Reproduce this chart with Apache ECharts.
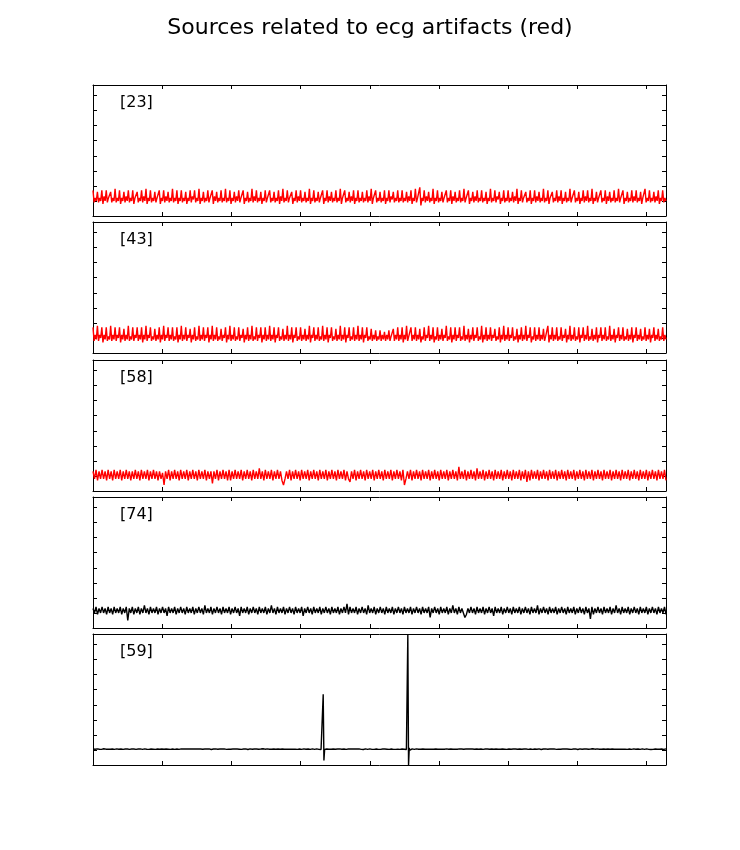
<!DOCTYPE html>
<html><head><meta charset="utf-8">
<script src="https://cdn.jsdelivr.net/npm/echarts@6/dist/echarts.min.js"></script>
<style>html,body{margin:0;padding:0;background:#fff}#c{width:740px;height:850px}</style>
</head><body><div id="c"></div>
<script>
const titleText = 'Sources related to ecg artifacts (red)';
const panelLabels = ['[23]', '[43]', '[58]', '[74]', '[59]'];
const panelColors = ['#ff0000', '#ff0000', '#ff0000', '#000000', '#000000'];
const xMax = 82.8, xTickStep = 10;
const yMin = 0, yMax = 87, yTickStep = 10;

const s23 = [
17,9,12,10, 16,9,12,10, 17,8,13,10, 17,9,12,11, 16,9,12,10, 18,9,12,10, 17,8,12,10, 16,9,13,10, 17,9,12,10, 17,8,12,11,
16,9,12,10, 17,9,13,10, 18,8,12,10, 17,9,12,10, 16,9,12,11, 17,8,12,10, 17,9,13,10, 16,9,12,10, 18,9,12,10, 17,8,12,10,
17,9,12,10, 16,8,12,10, 17,9,13,11, 17,9,12,10, 18,8,12,10, 16,9,12,10, 17,9,12,11, 17,8,13,10, 16,9,12,10, 17,9,12,10,
18,9,12,10, 17,8,12,10, 16,9,13,10, 17,9,12,11, 17,8,12,10, 16,9,12,10, 18,9,13,10, 17,9,12,10, 16,8,12,10, 17,9,12,11,
17,9,12,10, 16,9,12,10, 17,8,13,10, 18,9,12,10, 17,9,12,11, 16,8,12,10, 17,9,13,10, 17,9,12,10, 16,9,12,10, 18,8,12,10,
17,9,12,10, 16,9,12,11, 17,8,12,10, 17,9,13,10, 16,9,12,10, 17,9,12,10, 18,8,12,11, 17,9,12,10, 16,9,13,10, 17,8,12,10,
17,9,12,10, 16,9,12,10, 17,9,13,10, 18,8,12,11, 17,9,12,10, 16,9,12,10, 17,8,12,10, 17,9,13,11, 16,9,12,10, 17,9,12,10,
17,9,12,10, 16,9,13,10, 17,8,12,10, 18,9,12,11, 19,7,12,10, 17,9,13,10, 16,9,12,10, 18,8,12,10, 17,9,12,10, 16,9,12,11,
17,9,12,10, 17,8,13,10, 16,9,12,10, 17,9,12,10, 18,9,12,11, 17,8,12,10, 16,9,13,10, 17,9,12,10, 17,9,12,10, 16,8,12,10,
18,9,12,10, 17,9,13,11, 16,8,12,10, 17,9,12,10, 17,9,12,10, 16,9,13,10, 18,8,12,10, 17,9,12,11, 16,9,12,10, 17,8,12,10,
17,9,13,10, 16,9,12,10, 18,9,12,10, 17,8,12,11, 16,9,12,10, 17,9,13,10, 17,8,12,10, 16,9,12,10, 18,9,12,11, 17,9,12,10,
16,8,12,10, 17,9,13,10, 17,9,12,10, 18,8,12,10, 16,9,12,11, 17,9,12,10, 17,8,13,10, 16,9,12,10, 17,9,12,10, 18,9,12,11,
17,8,12,10, 16,9,12,10, 17,9,13,10, 17,9,12,10, 16,8,12,11, 18,9,12,10, 17,9,12,10, 16,9,13,10, 17,8,12,10, 17,9,12,10
];

const s43 = [
17,8,12,9, 18,8,12,10, 17,7,12,9, 17,8,11,9, 18,8,12,9, 17,8,12,10, 17,7,12,9, 16,8,12,9, 18,8,11,9, 17,8,12,10,
17,8,12,9, 17,7,12,9, 18,8,12,10, 17,8,11,9, 16,8,12,9, 17,7,12,9, 18,8,12,10, 17,8,12,9, 17,8,11,9, 17,7,12,9,
18,8,12,9, 17,8,12,10, 16,7,12,9, 17,8,11,9, 18,8,12,9, 17,8,12,10, 17,7,12,9, 18,8,12,9, 17,8,11,9, 16,8,12,10,
17,7,12,9, 18,8,12,9, 17,8,11,9, 17,8,12,10, 16,7,12,9, 17,8,12,9, 18,8,11,9, 17,8,12,10, 17,7,12,9, 17,8,12,9,
18,8,12,9, 17,7,12,10, 17,8,11,9, 16,8,12,9, 18,8,12,9, 17,7,12,10, 17,8,11,9, 17,8,12,9, 16,8,12,9, 18,7,12,10,
17,8,12,9, 17,8,11,9, 18,8,12,9, 17,7,12,10, 17,8,11,9, 16,8,12,9, 18,8,12,9, 17,7,12,10, 17,8,11,9, 17,8,12,9,
18,8,12,9, 17,7,12,10, 17,8,11,9, 16,8,12,9, 15,8,11,9, 15,8,12,9, 14,8,12,9, 15,8,11,10, 16,8,12,9, 17,8,12,9,
17,7,12,9, 18,8,11,10, 17,8,12,9, 17,8,12,9, 16,7,11,9, 17,8,12,10, 18,8,12,9, 17,7,11,9, 17,8,12,9, 16,8,12,10,
18,8,11,9, 17,7,12,9, 17,8,12,10, 17,8,11,9, 18,8,12,9, 16,7,12,9, 17,8,12,10, 17,8,11,9, 18,7,12,9, 17,8,12,9,
17,8,12,10, 16,8,11,9, 17,7,12,9, 18,8,12,9, 17,8,12,10, 17,8,11,9, 16,7,12,9, 17,8,12,9, 18,8,12,10, 17,7,11,9,
17,8,12,9, 17,8,12,9, 16,8,11,10, 18,7,12,9, 17,8,12,9, 17,8,11,9, 17,8,12,10, 16,7,12,9, 18,8,12,9, 17,8,11,9,
17,7,12,10, 17,8,12,9, 18,8,11,9, 16,8,12,9, 17,7,12,10, 17,8,12,9, 17,8,11,9, 18,8,12,9, 16,7,12,10, 17,8,12,9,
17,8,11,9, 16,8,12,9, 17,7,12,10, 17,8,12,9, 16,8,11,9, 17,8,12,9, 16,7,12,10, 17,8,12,9, 16,8,11,9, 17,8,12,9
];

const s58 = [
13,8,14,7,13,8,14,8,13,7, 14,8,13,7,14,8,13,8,14,7, 13,8,14,8,13,7,13,8,14,8, 13,7,14,8,13,8,14,7,13,8,
14,8,13,7,13,8,12,4,13,8, 14,7,13,8,14,8,13,7,14,8, 13,8,14,7,13,8,14,8,13,7, 14,8,13,8,14,7,13,8,13,5,
13,8,14,7,13,8,14,8,13,7, 14,7,13,8,14,8,13,8,14,7, 13,8,14,8,13,7,14,8,13,8, 15,8,13,7,14,8,13,8,14,7,
13,8,14,8,13,7,4,8,13,8, 14,7,13,8,14,8,13,7,14,8, 13,8,14,7,13,8,14,8,13,7, 14,8,13,8,14,7,13,8,14,8,
13,7,14,8,13,8,14,7,13,8, 6,13,8,14,7,13,8,14,8,13, 7,14,8,13,8,14,7,13,8,14, 8,13,7,14,8,13,8,14,7,13,
8,14,8,13,7,14,4,8,13,8, 14,7,13,8,14,8,13,7,14,8, 13,8,14,7,13,8,14,8,13,7, 14,8,13,8,14,7,13,8,14,8,
13,7,16,8,13,8,14,7,13,8, 14,8,13,7,15,8,13,8,14,7, 13,8,14,8,13,7,14,8,13,8, 14,7,13,8,14,8,13,7,14,8,
13,8,14,7,13,8,14,6,13,7, 14,8,13,8,14,7,13,8,14,8, 13,7,14,8,13,8,14,7,13,8, 14,8,13,7,14,8,13,8,14,7,
13,8,14,8,13,7,14,8,13,8, 14,7,13,8,14,8,13,7,14,8, 13,8,14,7,13,8,14,8,13,7, 14,8,13,8,14,7,13,8,14,8,
13,7,14,8,13,8,14,7,13,8, 14,8,13,7,14,8,13,8,14,7
];

const s74 = [
13,10,14,9,13,10,14,10,13,9, 14,10,13,9,14,10,13,10,14,9, 13,10,14,5,13,10,14,9,13,10, 14,9,13,10,15,10,13,9,14,10,
13,10,14,9,13,10,14,10,13,8, 14,10,13,10,14,9,13,10,14,10, 13,9,14,10,13,10,14,9,13,10, 14,10,13,9,15,10,13,10,14,9,
13,10,14,10,13,9,14,10,13,10, 14,9,13,10,14,10,13,8,14,10, 13,10,14,9,13,10,14,10,13,9, 14,10,13,10,14,9,13,10,15,10,
13,9,14,10,13,10,14,9,13,10, 14,10,13,9,14,10,13,10,14,8, 13,10,14,10,13,9,14,10,13,10, 14,9,13,10,14,10,13,9,14,10,
13,10,14,9,13,10,14,10,16,9, 14,10,13,10,14,9,13,10,14,10, 13,9,15,10,13,10,14,9,13,10, 14,10,13,9,14,10,13,10,14,9,
13,10,14,10,13,9,14,10,13,10, 14,9,13,10,14,10,13,9,14,10, 13,10,14,7,13,10,14,10,13,9, 14,10,13,10,14,9,13,10,15,10,
13,9,14,10,13,10,7,9,13,10, 14,10,13,9,14,10,13,10,14,9, 13,10,14,10,13,8,14,10,13,10, 14,9,13,10,14,10,13,9,14,10,
13,10,14,9,13,10,14,10,13,9, 14,10,13,10,15,9,13,10,14,10, 13,9,14,10,13,10,14,9,13,10, 14,10,13,9,14,10,13,10,14,9,
13,10,14,10,13,9,14,10,13,6, 14,9,13,10,14,10,13,9,14,10, 13,10,14,9,13,10,15,10,13,9, 14,10,13,10,14,9,13,10,14,10,
13,9,14,10,13,10,14,9,13,10, 14,10,13,9,14,10,13,10,14,9
];

const s59 = [
10.6,10.4,10.7,10.5,10.6,10.3,10.7,10.5,10.6,10.5, 10.5,10.7,10.4,10.6,10.5,10.8,10.4,10.6,10.5,10.7,
10.6,10.5,10.3,10.7,10.5,10.6,10.4,10.6,10.7,10.5, 10.4,10.6,10.5,10.7,10.4,10.6,10.5,10.3,10.7,10.6,
10.5,10.6,10.4,10.8,10.5,10.6,10.5,10.4,10.6,10.7, 10.6,10.4,10.5,10.7,10.6,10.5,10.3,10.6,10.5,10.7,
10.4,10.7,10.5,10.6,10.4,10.6,10.7,10.5,10.6,10.4, 10.6,10.5,10.7,10.4,10.6,10.5,10.6,10.8,10.4,10.6,
10.5,10.6,10.4,10.7,10.5,10.6,10.5,10.4,10.7,10.5, 10.6,10.4,10.6,10.5,10.7,10.5,10.6,10.3,10.6,10.5,
10.7,10.5,10.6,10.4,10.6,10.5,10.7,10.5,10.4,10.6, 10.5,10.6,10.7,10.5,10.4,10.6,10.5,10.6,10.8,10.5,
10.4,10.6,10.5,10.7,10.6,10.4,10.6,10.5,10.6,10.7, 10.5,10.4,10.6,10.5,10.7,10.6,10.4,10.5,10.6,10.5,
10.6,10.7,10.5,10.4,10.6,10.5,10.7,10.6,10.5,10.4, 10.6,10.5,10.7,10.5,10.6,10.4,10.6,10.8,10.3,10.6,
10.6,10.4,10.7,10.5,10.6,10.3,10.7,10.5,10.6,10.5, 10.5,10.7,10.4,10.6,10.5,10.8,10.4,10.6,10.5,10.7,
10.6,10.5,10.3,10.7,10.5,10.6,10.4,10.6,10.7,10.5, 10.4,10.6,10.5,10.7,10.4,10.6,10.5,10.3,10.7,10.6,
10.5,10.6,10.4,10.8,10.5,10.6,10.5,10.4,10.6,10.7, 10.6,10.4,10.5,10.7,10.6,10.5,10.3,10.6,10.5,10.7,
10.4,10.7,10.5,10.6,10.4,10.6,10.7,10.5,10.6,10.4, 10.6,10.5,10.7,10.4,10.6,10.5,10.6,10.8,10.4,10.6,
10.5,10.6,10.4,10.7,10.5,10.6,10.5,10.4,10.7,10.5, 10.6,10.4,10.6,10.5,10.7,10.5,10.6,10.3,10.6,10.5,
10.7,10.5,10.6,10.4,10.6,10.5,10.7,10.5,10.4,10.6, 10.5,10.6,10.7,10.5,10.4,10.6,10.5,10.6,10.8,10.5,
10.4,10.6,10.5,10.7,10.6,10.4,10.6,10.5,10.6,10.7, 10.5,10.4,10.6,10.5,10.7,10.6,10.4,10.5,10.6,10.5,
10.6,10.7,10.5,10.4,10.6,10.5,10.7,10.6,10.5,10.4, 10.6,10.5,10.7,10.5,10.6,10.4,10.6,10.8,10.3,10.6,
10.6,47,3,10.3,10.8,10.5,10.6,10.4,10.7,10.5, 10.4,10.6,10.5,10.7,10.5,10.6,10.4,10.6,10.5,10.7,
10.5,10.6,10.4,10.6,10.7,10.5,10.6,10.5,10.4,10.6, 10.6,10.5,10.7,10.4,10.6,10.5,10.6,10.7,10.5,10.6,
10.5,10.4,10.6,10.5,10.7,10.6,10.5,10.4,10.6,10.5, 10.6,10.7,10.5,10.6,10.4,10.6,10.5,10.3,10.6,10.5,
10.7,10.5,10.6,10.4,10.5,10.6,10.7,10.5,10.6,10.4, 10.5,10.6,10.4,10.7,10.5,10.6,10.5,10.8,10.4,10.6,
10.6,10.4,10.5,10.7,10.6,10.5,10.4,10.6,10.5,10.7, 10.5,10.7,10.6,10.4,10.6,10.5,10.6,10.5,10.7,10.4,
10.6,10.5,10.4,10.6,10.7,10.5,10.6,10.5,10.4,10.6, 10.5,10.6,10.4,10.7,10.5,10.6,10.9,10.3,11.2,87,
0,11.3,9.8,10.9,10.3,10.7,10.5,10.6,10.4,10.6, 10.5,10.7,10.4,10.6,10.5,10.6,10.7,10.5,10.4,10.6,
10.6,10.5,10.7,10.5,10.4,10.6,10.5,10.7,10.6,10.5, 10.4,10.6,10.5,10.6,10.7,10.5,10.6,10.4,10.6,10.5,
10.7,10.5,10.6,10.4,10.5,10.6,10.7,10.5,10.6,10.4, 10.5,10.6,10.4,10.7,10.5,10.6,10.5,10.8,10.4,10.6,
10.6,10.4,10.5,10.7,10.6,10.5,10.4,10.6,10.5,10.7, 10.5,10.7,10.6,10.4,10.6,10.5,10.6,10.5,10.7,10.4,
10.6,10.5,10.4,10.6,10.7,10.5,10.6,10.5,10.4,10.6, 10.4,10.6,10.5,10.7,10.5,10.6,10.3,10.6,10.5,10.7,
10.5,10.6,10.7,10.5,10.4,10.6,10.5,10.6,10.7,10.5, 10.6,10.4,10.6,10.5,10.7,10.5,10.6,10.4,10.6,10.5,
10.7,10.5,10.6,10.4,10.6,10.5,10.7,10.6,10.5,10.6, 10.5,10.6,10.4,10.7,10.5,10.6,10.5,10.4,10.6,10.5,
10.6,10.4,10.6,10.5,10.7,10.5,10.6,10.5,10.4,10.6, 10.5,10.7,10.5,10.6,10.4,10.6,10.5,10.7,10.5,10.6,
10.5,10.6,10.4,10.7,10.6,10.5,10.6,10.4,10.5,10.7, 10.6,10.5,10.7,10.4,10.6,10.5,10.6,10.4,10.7,10.5,
10.6,10.4,10.7,10.5,10.6,10.3,10.7,10.5,10.6,10.5, 10.5,10.7,10.4,10.6,10.5,10.8,10.4,10.6,10.5,10.7,
10.6,10.5,10.3,10.7,10.5,10.6,10.4,10.6,10.7,10.5, 10.4,10.6,10.5,10.7,10.4,10.6,10.5,10.3,10.7,10.6,
10.5,10.6,10.4,10.8,10.5,10.6,10.5,10.4,10.6,10.7, 10.6,10.4,10.5,10.7,10.6,10.5,10.3,10.6,10.5,10.7,
10.4,10.7,10.5,10.6,10.4,10.6,10.7,10.5,10.6,10.4, 10.6,10.5,10.7,10.4,10.6,10.5,10.6,10.8,10.4,10.6,
10.5,10.6,10.4,10.7,10.5,10.6,10.5,10.4,10.7,10.5, 10.6,10.4,10.6,10.5,10.7,10.5,10.6,10.3,10.6,10.5,
10.7,10.5,10.6,10.4,10.6,10.5,10.7,10.5,10.4,10.6, 10.5,10.6,10.7,10.5,10.4,10.6,10.5,10.6,10.8,10.5,
10.4,10.6,10.5,10.7,10.6,10.4,10.6,10.5,10.6,10.7, 10.5,10.4,10.6,10.5,10.7,10.6,10.4,10.5,10.6,10.5,
10.6,10.7,10.5,10.4,10.6,10.5,10.7,10.6,10.5,10.4, 10.6,10.5,10.7,10.5,10.6,10.4,10.6,10.8,10.3,10.6,
10.6,10.4,10.7,10.5,10.6,10.3,10.7,10.5,10.6,10.5, 10.5,10.7,10.4,10.6,10.5,10.8,10.4,10.6,10.5,10.7
];

const seriesData = [s23, s43, s58, s74, s59];
const gridTops = [85, 222, 360, 497, 634];
const gridHeight = 131;
const lineWidth = 1.4;

const grids = [], xAxes = [], yAxes = [], series = [], titles = [];
titles.push({
  text: titleText, left: 'center', top: 17, padding: 0,
  textStyle: { fontFamily: 'DejaVu Sans', fontSize: 22, fontWeight: 'normal', color: '#000' }
});
function axisStyle() {
  return {
    axisLine: { show: true, onZero: false, lineStyle: { color: '#000', width: 1 } },
    axisTick: { show: true, inside: true, length: 4, lineStyle: { color: '#000', width: 1 } },
    axisLabel: { show: false },
    splitLine: { show: false }
  };
}
for (let i = 0; i < 5; i++) {
  grids.push({ left: 93, right: 74, top: gridTops[i], height: gridHeight, show: false });
  xAxes.push(Object.assign({ type: 'value', gridIndex: i, position: 'bottom', min: 0, max: xMax, interval: xTickStep }, axisStyle()));
  xAxes.push(Object.assign({ type: 'value', gridIndex: i, position: 'top', min: 0, max: xMax, interval: xTickStep }, axisStyle()));
  yAxes.push(Object.assign({ type: 'value', gridIndex: i, position: 'left', min: yMin, max: yMax, interval: yTickStep }, axisStyle()));
  yAxes.push(Object.assign({ type: 'value', gridIndex: i, position: 'right', min: yMin, max: yMax, interval: yTickStep }, axisStyle()));
  const d = seriesData[i];
  const n = d.length;
  series.push({
    type: 'line', xAxisIndex: 2 * i, yAxisIndex: 2 * i,
    data: d.map((v, k) => [k * xMax / (n - 1), v]),
    showSymbol: false, symbol: 'none', silent: true, animation: false,
    lineStyle: { color: panelColors[i], width: lineWidth }
  });
  titles.push({
    text: panelLabels[i], left: 120, top: gridTops[i] + 10, padding: 0,
    textStyle: { fontFamily: 'DejaVu Sans', fontSize: 16, fontWeight: 'normal', color: '#000' }
  });
}

const chart = echarts.init(document.getElementById('c'), null, { renderer: 'canvas' });
chart.setOption({
  animation: false,
  backgroundColor: '#fff',
  title: titles,
  grid: grids,
  xAxis: xAxes,
  yAxis: yAxes,
  series: series
});
</script>
</body></html>
